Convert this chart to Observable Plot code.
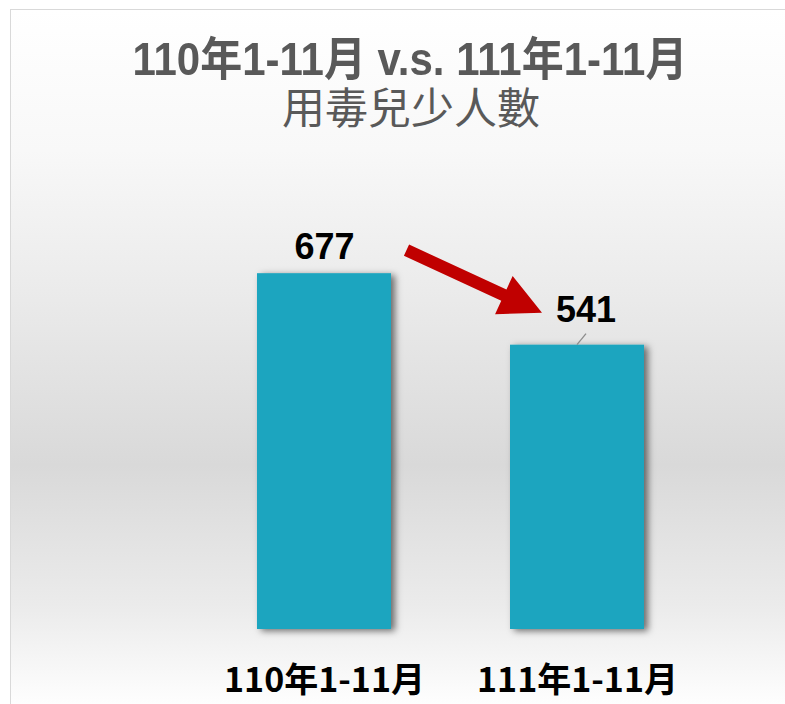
<!DOCTYPE html>
<html>
<head>
<meta charset="utf-8">
<script src="https://cdn.jsdelivr.net/npm/d3@7"></script>
<script src="https://cdn.jsdelivr.net/npm/@observablehq/plot@0.6"></script>
<style>
  html, body { margin: 0; padding: 0; }
  body { width: 785px; height: 704px; overflow: hidden; position: relative; background: #fff; }
  #frame { position: absolute; left: 10px; top: 9px; width: 800px; height: 702px; box-sizing: border-box;
    border: 1px solid #d9d9d9;
    background: linear-gradient(to bottom, #ffffff 0%, #f8f8f8 20%, #ebebeb 40%, #d9d9d9 65%, #ebebeb 85%, #ffffff 100%); }
  .tline { position: absolute; left: 0; width: 820px; text-align: center; color: #595959; white-space: nowrap; }
  #t1 { top: 36px; height: 46px; line-height: 46px; font-family: 'Liberation Sans', Arial, 'Noto Sans CJK TC', sans-serif; font-weight: bold; font-size: 46px; }
  #t1 span { display: inline-block; transform-origin: 50% 50%; }
  #t2 { left: 1px; top: 82px; height: 46px; line-height: 46px; font-family: 'Noto Sans CJK TC', sans-serif; font-weight: normal; font-size: 43px; }
  #chart { position: absolute; left: 0; top: 140px; }
</style>
</head>
<body>
<div id="frame"></div>
<div id="t1" class="tline"><span></span></div>
<div id="t2" class="tline"></div>
<div id="chart"></div>
<script>
// ---- data ----
const titleLine1 = "110年1-11月 v.s. 111年1-11月";
const titleLine2 = "用毒兒少人數";
const categories = ["110年1-11月", "111年1-11月"];
const values = [677, 541];

const t1span = document.querySelector("#t1 span");
t1span.textContent = titleLine1;
document.getElementById("t2").textContent = titleLine2;
const w1 = t1span.getBoundingClientRect().width;
if (w1 > 0) t1span.style.transform = `scaleX(${555 / w1})`;

const data = categories.map((c, i) => ({cat: c, value: values[i]}));

function annotations(index, scales, channels, dimensions, context) {
  const x = scales.x, y = scales.y;
  const bw = typeof x.bandwidth === "function" ? x.bandwidth() : (x.bandwidth ?? 0);
  const c0 = x(categories[0]) + bw / 2;
  const c1 = x(categories[1]) + bw / 2;
  const g = d3.create("svg:g");
  const defs = g.append("defs");
  const f = defs.append("filter").attr("id", "barShadow").attr("x", "-20%").attr("y", "-20%").attr("width", "140%").attr("height", "140%");
  f.append("feDropShadow").attr("dx", 4).attr("dy", 2).attr("stdDeviation", 3.5)
    .attr("flood-color", "#000").attr("flood-opacity", 0.55);
  // leader line for second label
  const lx = c1, ly = y(values[1]);
  g.append("line").attr("x1", lx).attr("y1", ly).attr("x2", lx + 9).attr("y2", ly - 11)
    .attr("stroke", "#8c8c8c").attr("stroke-width", 1.3);
  // red arrow from first label towards second label
  const T = [c0 + 82.5, y(values[0]) - 23];
  const P = [c1 - 35, y(values[1]) - 32];
  const dxv = P[0] - T[0], dyv = P[1] - T[1];
  const len = Math.hypot(dxv, dyv);
  const u = [dxv / len, dyv / len];
  const n = [-u[1], u[0]];
  const headLen = 42, headHalf = 21, shaftHalf = 6.2;
  const B = [P[0] - headLen * u[0], P[1] - headLen * u[1]];
  const pts = [
    [T[0] + n[0] * shaftHalf, T[1] + n[1] * shaftHalf],
    [B[0] + n[0] * shaftHalf, B[1] + n[1] * shaftHalf],
    [B[0] + n[0] * headHalf, B[1] + n[1] * headHalf],
    P,
    [B[0] - n[0] * headHalf, B[1] - n[1] * headHalf],
    [B[0] - n[0] * shaftHalf, B[1] - n[1] * shaftHalf],
    [T[0] - n[0] * shaftHalf, T[1] - n[1] * shaftHalf]
  ];
  g.append("polygon").attr("points", pts.map(p => p.join(",")).join(" ")).attr("fill", "#c00000");
  return g.node();
}

const plot = Plot.plot({
  width: 785,
  height: 564,
  marginLeft: 138,
  marginRight: 22,
  marginTop: 16,
  marginBottom: 75,
  style: {
    background: "transparent",
    fontFamily: "'Noto Sans CJK TC', sans-serif",
    fontSize: "34px",
    fontWeight: "bold",
    color: "#000",
    overflow: "visible"
  },
  x: { domain: categories, padding: 0.47, label: null, tickSize: 0, tickPadding: 38 },
  y: { domain: [0, 900], axis: null },
  marks: [
    Plot.barY(data, { x: "cat", y: "value", fill: "#1aa5bf" }),
    Plot.text(data.filter(d => d.cat === categories[0]), {
      x: "cat", y: "value", text: d => String(d.value), dy: -26.5,
      fontSize: 36, fontWeight: "bold", fontFamily: "'Liberation Sans', Arial, sans-serif", fill: "#000"
    }),
    Plot.text(data.filter(d => d.cat === categories[1]), {
      x: "cat", y: "value", text: d => String(d.value), dy: -34.5, dx: 8.5,
      fontSize: 36, fontWeight: "bold", fontFamily: "'Liberation Sans', Arial, sans-serif", fill: "#000"
    }),
    annotations
  ]
});

document.getElementById("chart").appendChild(plot);
const barG = plot.querySelector('g[aria-label="bar"]');
if (barG) barG.setAttribute("filter", "url(#barShadow)");
</script>
</body>
</html>
